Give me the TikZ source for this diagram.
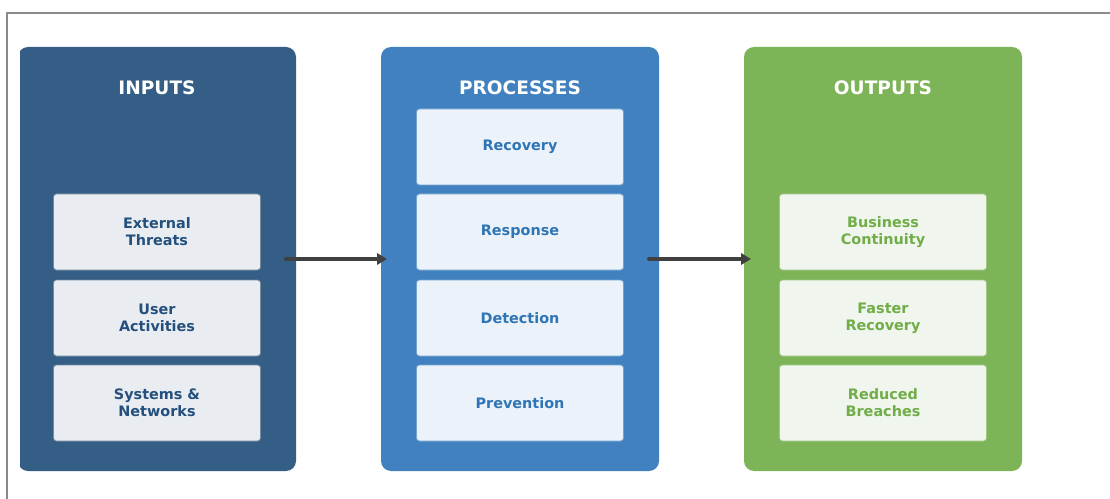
\documentclass[tikz,border=0pt]{standalone}
\usepackage{fontspec}
\setmainfont{DejaVu Sans}
\usetikzlibrary{arrows.meta}
\definecolor{inpanel}{HTML}{345E85}
\definecolor{prpanel}{HTML}{4281BF}
\definecolor{outpanel}{HTML}{7DB458}
\definecolor{inbox}{HTML}{E9ECF1}
\definecolor{intext}{HTML}{24507D}
\definecolor{prbox}{HTML}{EBF2F9}
\definecolor{prtext}{HTML}{2F75B5}
\definecolor{outbox}{HTML}{F0F5EE}
\definecolor{outtext}{HTML}{70AD47}
\definecolor{arrowcol}{HTML}{404040}
\definecolor{framecol}{HTML}{8A8A8A}
\begin{document}
\begin{tikzpicture}[x=0.75pt,y=-0.75pt,
  panel/.style={minimum width=278*0.75pt, minimum height=424*0.75pt, rounded corners=7.5pt, inner sep=0pt, outer sep=0pt},
  title/.style={font=\bfseries\fontsize{13.9pt}{16pt}\selectfont, text=white},
  item/.style={minimum width=207*0.75pt, minimum height=76*0.75pt, rounded corners=2.2pt, inner sep=0pt, outer sep=0pt, align=center, line width=0.6pt, font=\bfseries\fontsize{10.8pt}{12.75pt}\selectfont},
  initem/.style={item, fill=inbox, draw=inpanel!80!black!60!inbox, text=intext},
  pritem/.style={item, fill=prbox, draw=prpanel!70!prbox, text=prtext},
  outitem/.style={item, fill=outbox, draw=outpanel!70!outbox, text=outtext},
  flow/.style={draw=arrowcol, line width=3pt, line cap=round, -{Triangle[length=7.5pt,width=8.5pt]}}
]
\clip (0,0) rectangle (1110,499);
\fill[white] (0,0) rectangle (1110,499);
\draw[framecol, line width=1.5pt] (7,520) -- (7,13) -- (1130,13);
% panels
\begin{scope}
\clip (20,0) rectangle (1110,499);
\node[panel, fill=inpanel] (pin) at (157,259) {};
\end{scope}
\node[panel, fill=prpanel] (ppr) at (520,259) {};
\node[panel, fill=outpanel] (pout) at (883,259) {};
% titles
\node[title] (tin) at (157,88) {INPUTS};
\node[title] (tpr) at (520,88) {PROCESSES};
\node[title] (tout) at (883,88) {OUTPUTS};
% inputs
\node[initem] (i1) at (157,232) {External\\Threats};
\node[initem] (i2) at (157,318) {User\\Activities};
\node[initem] (i3) at (157,403) {Systems \&\\Networks};
% processes
\node[pritem] (p1) at (520,147) {Recovery};
\node[pritem] (p2) at (520,232) {Response};
\node[pritem] (p3) at (520,318) {Detection};
\node[pritem] (p4) at (520,403) {Prevention};
% outputs
\node[outitem] (o1) at (883,232) {Business\\Continuity};
\node[outitem] (o2) at (883,318) {Faster\\Recovery};
\node[outitem] (o3) at (883,403) {Reduced\\Breaches};
% arrows
\draw[flow] ([xshift=-7.5pt]pin.east) -- ([xshift=4.5pt]ppr.west);
\draw[flow] ([xshift=-7.5pt]ppr.east) -- ([xshift=5.25pt]pout.west);
\end{tikzpicture}
\end{document}
